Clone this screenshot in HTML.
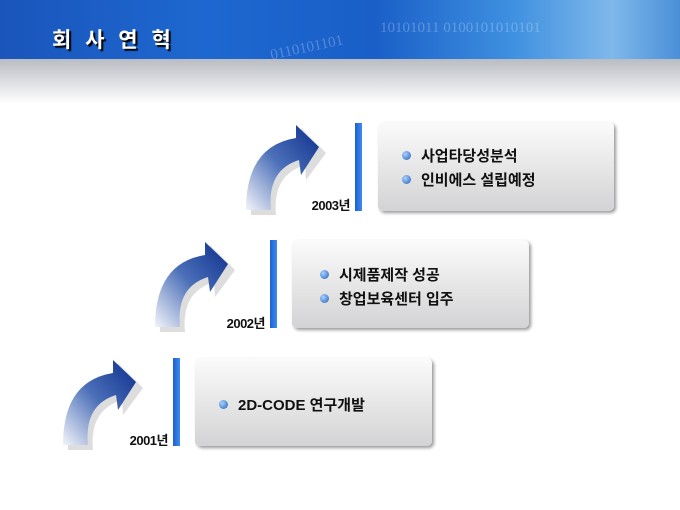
<!DOCTYPE html>
<html><head><meta charset="utf-8"><style>
body{margin:0;width:680px;height:510px;background:#fff;position:relative;overflow:hidden;font-family:"Liberation Sans","Noto Sans CJK KR",sans-serif}
.hdr{position:absolute;left:0;top:0;width:680px;height:59px;background:linear-gradient(90deg,#1a55bb 0%,#1d68d0 30%,#1a5fc8 55%,#3d8fe0 75%,#7fb8ea 90%,#4a8fd8 100%)}
.band{position:absolute;left:0;top:59px;width:680px;height:45px;background:linear-gradient(#b9bcc2,#fff)}
.title{position:absolute;left:52px;top:24px;color:#fff;font-weight:bold;font-size:21px;letter-spacing:4px;text-shadow:2px 2px 1px #000}
.bin{position:absolute;color:rgba(255,255,255,.25);font-family:"Liberation Serif",serif;font-size:15px}
.bar{position:absolute;width:7px;background:linear-gradient(90deg,#1f5fd0,#3b8cf0);}
.box{position:absolute;border-radius:5px;background:linear-gradient(#fbfbfb,#d3d3d5);box-shadow:2px 2px 3px #999}
.box div{position:absolute;font-size:15px;font-weight:bold;color:#111}
.dot{display:inline-block;width:9px;height:9px;border-radius:50%;background:radial-gradient(circle at 35% 35%,#a9d2ff,#1f5fb8);margin-right:10px;vertical-align:1px}
.yr{position:absolute;font-size:13px;font-weight:bold;color:#111;text-align:right;width:60px;letter-spacing:-0.5px}
svg{position:absolute;left:0;top:0}
</style></head><body>
<div class="hdr"></div>
<div class="bin" style="left:270px;top:40px;transform:rotate(-12deg)">0110101101</div>
<div class="bin" style="left:380px;top:20px">10101011 0100101010101</div>
<div class="band"></div>
<div class="title">회 사 연 혁</div>
<svg width="680" height="510">
<defs><linearGradient id="g" x1="1" y1="0" x2="0" y2="1"><stop offset="0" stop-color="#0c2f8c"/><stop offset=".5" stop-color="#4b6fb8"/><stop offset="1" stop-color="#f2f4fa"/></linearGradient>
<g id="a"><path d="M12,92 L37,92 Q33,52 66,42 L67,57 L87,30 L62,5 L62,19 Q12,28 12,92Z" fill="#ddd" transform="translate(3,3)"/>
<path d="M10,90 L35,90 Q31,50 63,40 L65,55 L83,27 L60,5 L60,18 Q10,26 10,90Z" fill="url(#g)"/></g></defs>
<use href="#a" x="53" y="355"/><use href="#a" x="145" y="237"/><use href="#a" x="236" y="120"/>
</svg>
<div class="bar" style="left:355px;top:123px;height:88px"></div>
<div class="bar" style="left:270px;top:240px;height:88px"></div>
<div class="bar" style="left:173px;top:358px;height:88px"></div>
<div class="yr" style="left:290px;top:195px">2003년</div>
<div class="yr" style="left:205px;top:313px">2002년</div>
<div class="yr" style="left:108px;top:430px">2001년</div>
<div class="box" style="left:378px;top:122px;width:236px;height:89px">
<div style="left:24px;top:23px"><span class="dot"></span>사업타당성분석</div>
<div style="left:24px;top:47px"><span class="dot"></span>인비에스 설립예정</div></div>
<div class="box" style="left:292px;top:240px;width:237px;height:88px">
<div style="left:28px;top:24px"><span class="dot"></span>시제품제작 성공</div>
<div style="left:28px;top:48px"><span class="dot"></span>창업보육센터 입주</div></div>
<div class="box" style="left:195px;top:358px;width:237px;height:88px">
<div style="left:24px;top:36px"><span class="dot"></span>2D-CODE 연구개발</div></div>
</body></html>
